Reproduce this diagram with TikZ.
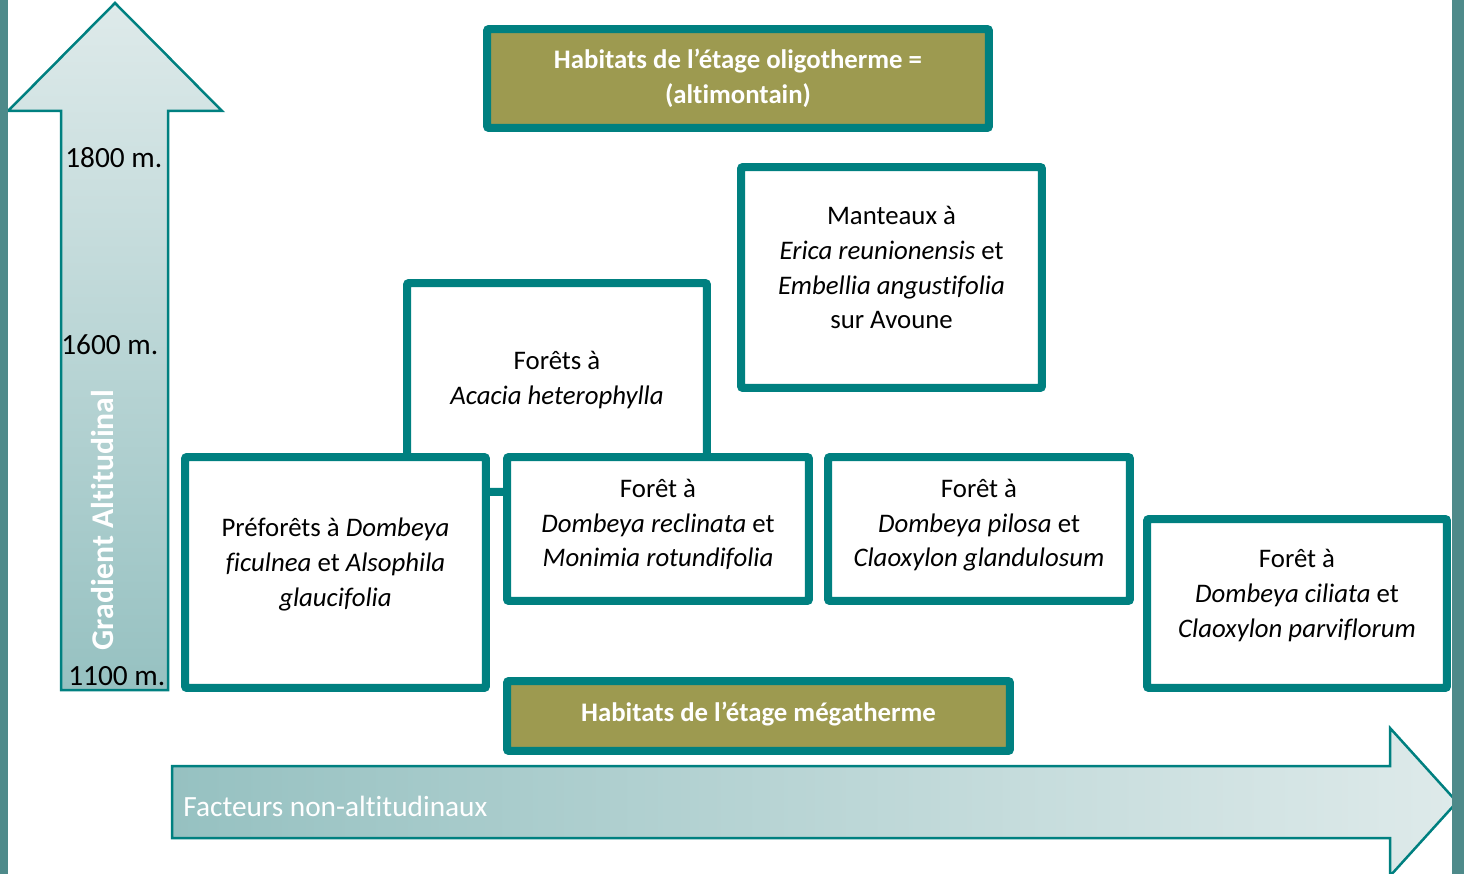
\documentclass[tikz,border=0pt]{standalone}
\usepackage{fontspec}
\setmainfont{Carlito}[Ligatures=NoCommon]
\usepackage{tikz}
\usetikzlibrary{positioning}

\definecolor{boxteal}{RGB}{0,128,128}
\definecolor{sidebar}{RGB}{78,138,138}
\definecolor{etageolive}{RGB}{157,154,80}
\definecolor{arrowlight}{RGB}{222,234,234}
\definecolor{arrowdark}{RGB}{150,193,193}
\newcommand{\bodyfont}{\fontsize{15.25}{19.9}\selectfont}

\tikzset{
  framebox/.style={draw=boxteal, line width=0.16cm, rounded corners=0.04cm, align=center, font=\bodyfont, inner sep=0pt},
  habbox/.style={framebox, fill=white, text depth=11.5pt},
  etagebox/.style={framebox, fill=etageolive, text=white, font=\bodyfont\bfseries},
  altlbl/.style={anchor=west, font=\fontsize{16.7}{19}\selectfont, inner sep=0pt},
  bigarrow/.style={draw=boxteal, line width=0.05cm, line join=miter}
}

\begin{document}
\begin{tikzpicture}[x=0.02cm,y=-0.02cm]
\useasboundingbox (0,0) rectangle (1464,874);
\shade[bigarrow, top color=arrowlight, bottom color=arrowdark] (115,3) -- (222,111) -- (168,111) -- (168,690) -- (61,690) -- (61,111) -- (8,111) -- cycle;
\shade[bigarrow, left color=arrowdark, right color=arrowlight] (172,766) -- (1390,766) -- (1390,728) -- (1457,802) -- (1390,876) -- (1390,838) -- (172,838) -- cycle;
\node[altlbl] (alt1800) at (65,158) {1800 m.};
\node[altlbl] (alt1600) at (61,345) {1600 m.};
\node[altlbl] (alt1100) at (68,676) {1100 m.};
\node[font=\fontsize{18}{20}\selectfont\bfseries, text=white, rotate=90] (gradlbl) at (103,520) {Gradient Altitudinal};
\node[altlbl, text=white] (factlbl) at (183,806) {Facteurs non-altitudinaux};
\node[etagebox, minimum width=10.04cm, minimum height=1.98cm] (oligo) at (738,78.5) {Habitats de l’étage oligotherme =\\(altimontain)};
\node[habbox, minimum width=6.02cm, minimum height=4.42cm] (manteaux) at (891.5,277.5) {Manteaux à\\\textit{Erica reunionensis} et\\\textit{Embellia angustifolia}\\sur Avoune};
\node[habbox, minimum width=6.0cm, minimum height=4.18cm] (acacia) at (557,387.5) {Forêts à\\\textit{Acacia heterophylla}};
\node[habbox, minimum width=6.02cm, minimum height=4.62cm] (preforet) at (335.5,572.5) {Préforêts à \textit{Dombeya}\\\textit{ficulnea} et \textit{Alsophila}\\\textit{glaucifolia}};
\node[habbox, text depth=7pt, minimum width=6.04cm, minimum height=2.88cm] (reclinata) at (658,529) {Forêt à\\\textit{Dombeya reclinata} et\\\textit{Monimia rotundifolia}};
\node[habbox, text depth=7pt, minimum width=6.04cm, minimum height=2.88cm] (pilosa) at (979,529) {Forêt à\\\textit{Dombeya pilosa} et\\\textit{Claoxylon glandulosum}};
\node[habbox, minimum width=6.0cm, minimum height=3.38cm] (ciliata) at (1297,603.5) {Forêt à\\\textit{Dombeya ciliata} et\\\textit{Claoxylon parviflorum}};
\node[etagebox, text depth=5pt, minimum width=10.06cm, minimum height=1.4cm] (megath) at (758.5,716) {Habitats de l’étage mégatherme};
\fill[sidebar] (0,0) rectangle (8,874);
\fill[sidebar] (1452,0) rectangle (1464,874);
\end{tikzpicture}
\end{document}
